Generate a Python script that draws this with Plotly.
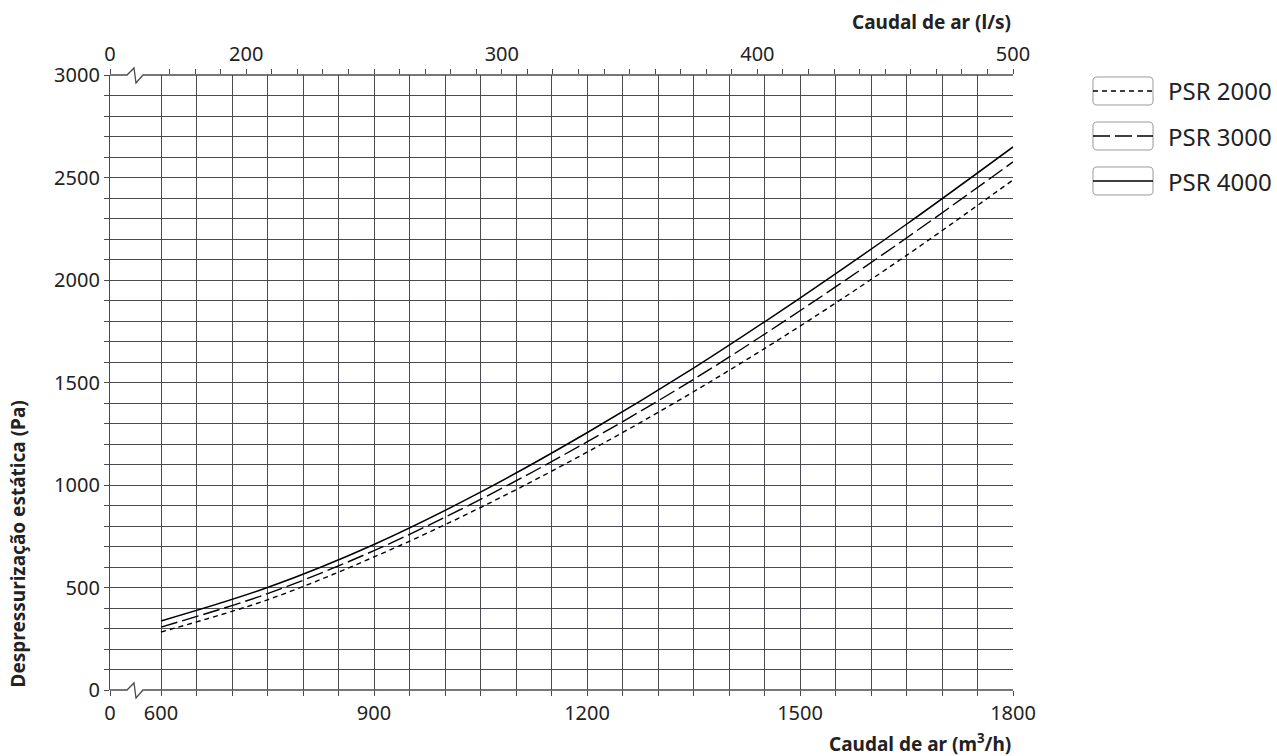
import plotly.graph_objects as go

# ---------------- data ----------------
flow_m3h = [600, 750, 900, 1050, 1200, 1350, 1500, 1650, 1800]
psr2000 = [283, 440, 649, 890, 1160, 1455, 1775, 2120, 2488]
psr3000 = [307, 470, 680, 930, 1210, 1515, 1850, 2205, 2576]
psr4000 = [337, 500, 710, 965, 1255, 1570, 1912, 2272, 2649]
series_names = ["PSR 2000", "PSR 3000", "PSR 4000"]

x_tick_labels = ["0", "600", "900", "1200", "1500", "1800"]
top_tick_labels = ["0", "200", "300", "400", "500"]
y_tick_labels = ["0", "500", "1000", "1500", "2000", "2500", "3000"]

# ---------------- geometry ----------------
W, H = 1277, 756
L, R, T, B = 110, 1013, 75, 690
pw, ph = R - L, B - T
FONT = "Noto Sans"
GRID = "#4a4a50"


def px(x):
    return (x - L) / pw


def py(y):
    return (B - y) / ph


# bottom axis: break between 0 and 600
x_zero_pos = 600 - 51 / (852 / 1200)  # position representing "0"
x_max = 1800
bottom_vals = [x_zero_pos] + list(range(600, 1801, 50))
bottom_text = []
for v in bottom_vals:
    if v == x_zero_pos:
        bottom_text.append(x_tick_labels[0])
    elif str(int(v)) in x_tick_labels:
        bottom_text.append(str(int(v)))
    else:
        bottom_text.append("")

# top axis in l/s
top_zero = x_zero_pos / 3.6
top_vals = [top_zero] + list(range(170, 501, 10))
top_text = []
for v in top_vals:
    if v == top_zero:
        top_text.append(top_tick_labels[0])
    elif str(int(v)) in top_tick_labels:
        top_text.append(str(int(v)))
    else:
        top_text.append("")

y_vals = list(range(0, 3001, 100))
y_text = [str(v) if str(v) in y_tick_labels else "" for v in y_vals]

fig = go.Figure()
styles = [
    dict(color="black", width=1.4, dash="5px,4px"),
    dict(color="black", width=1.4, dash="17px,5px"),
    dict(color="black", width=1.5, dash="solid"),
]
for name, ys, st in zip(series_names, [psr2000, psr3000, psr4000], styles):
    fig.add_trace(go.Scatter(x=flow_m3h, y=ys, mode="lines", name=name,
                             line=dict(shape="spline", **st), showlegend=False,
                             hoverinfo="skip"))
# invisible trace to carry the top l/s axis
fig.add_trace(go.Scatter(x=[v / 3.6 for v in flow_m3h], y=psr4000, xaxis="x2",
                         mode="lines", line=dict(width=0, color="rgba(0,0,0,0)"),
                         showlegend=False, hoverinfo="skip"))

tickfont = dict(family=FONT, size=20, color="#222")
fig.update_layout(
    width=W, height=H,
    margin=dict(l=L, r=W - R, t=T, b=H - B, pad=0),
    paper_bgcolor="white", plot_bgcolor="white",
    showlegend=False,
    xaxis=dict(range=[x_zero_pos, x_max], tickmode="array", tickvals=bottom_vals,
               ticktext=bottom_text, showgrid=True, gridcolor=GRID, gridwidth=1.3,
               ticks="outside", ticklen=5, tickcolor=GRID, tickwidth=1.3,
               showline=False, zeroline=False, tickfont=tickfont),
    xaxis2=dict(range=[top_zero, 500], overlaying="x", side="top", anchor="y",
                tickmode="array", tickvals=top_vals, ticktext=top_text,
                showgrid=False, ticks="outside", ticklen=5, tickcolor=GRID,
                tickwidth=1.3, showline=False, zeroline=False, tickfont=tickfont),
    yaxis=dict(range=[0, 3000], tickmode="array", tickvals=y_vals, ticktext=y_text,
               showgrid=True, gridcolor=GRID, gridwidth=1.3, ticks="outside",
               ticklen=5, tickcolor=GRID, tickwidth=1.3, showline=True,
               linecolor=GRID, linewidth=1.3, zeroline=False, tickfont=tickfont),
)

shapes = []
# cover the grid line at axis-break positions, then draw the broken axis lines
for yb in (B, T):
    shapes.append(dict(type="rect", xref="paper", yref="paper", layer="above",
                       x0=px(L + 1), x1=px(160), y0=py(yb + 3), y1=py(yb - 3),
                       fillcolor="white", line=dict(width=0)))
for yb in (B, T):
    pts = [(L, yb), (127, yb), (134, yb - 7), (136, yb + 8), (143, yb), (R, yb)]
    path = "M " + " L ".join(f"{px(a):.5f},{py(b):.5f}" for a, b in pts)
    shapes.append(dict(type="path", xref="paper", yref="paper", layer="above",
                       path=path, line=dict(color=GRID, width=1.3)))


# legend boxes
def rrect(x0, y0, x1, y1, r):
    p = [
        f"M {px(x0 + r):.5f},{py(y0):.5f}",
        f"L {px(x1 - r):.5f},{py(y0):.5f}",
        f"Q {px(x1):.5f},{py(y0):.5f} {px(x1):.5f},{py(y0 + r):.5f}",
        f"L {px(x1):.5f},{py(y1 - r):.5f}",
        f"Q {px(x1):.5f},{py(y1):.5f} {px(x1 - r):.5f},{py(y1):.5f}",
        f"L {px(x0 + r):.5f},{py(y1):.5f}",
        f"Q {px(x0):.5f},{py(y1):.5f} {px(x0):.5f},{py(y1 - r):.5f}",
        f"L {px(x0):.5f},{py(y0 + r):.5f}",
        f"Q {px(x0):.5f},{py(y0):.5f} {px(x0 + r):.5f},{py(y0):.5f} Z",
    ]
    return " ".join(p)


annotations = []
for i, (name, st) in enumerate(zip(series_names, styles)):
    cy = 91 + 45 * i
    shapes.append(dict(type="path", xref="paper", yref="paper",
                       path=rrect(1093, cy - 14, 1153, cy + 14, 4),
                       line=dict(color="#9a9a9a", width=1)))
    shapes.append(dict(type="line", xref="paper", yref="paper",
                       x0=px(1093), x1=px(1153), y0=py(cy), y1=py(cy),
                       line=dict(color="black", width=st["width"], dash=st["dash"])))
    annotations.append(dict(xref="paper", yref="paper", x=px(1166), y=py(cy),
                            xanchor="left", yanchor="middle", text=name,
                            showarrow=False, font=dict(family=FONT, size=24, color="#222")))

titlefont = dict(family=FONT, size=19, color="#222")
annotations += [
    dict(xref="paper", yref="paper", x=1, y=py(22), xanchor="right", yanchor="middle",
         text="<b>Caudal de ar (l/s)</b>", showarrow=False, font=titlefont),
    dict(xref="paper", yref="paper", x=1, y=py(743), xanchor="right", yanchor="middle",
         text="<b>Caudal de ar (m<sup>3</sup>/h)</b>", showarrow=False, font=titlefont),
    dict(xref="paper", yref="paper", x=px(17), y=0, xanchor="center", yanchor="bottom",
         textangle=-90, text="<b>Despressurização estática (Pa)</b>", showarrow=False,
         font=titlefont),
]
fig.update_layout(shapes=shapes, annotations=annotations)
fig.write_html("out.html", config={"displayModeBar": False},
               post_script="document.body.style.margin='0';document.body.style.overflow='hidden';")
